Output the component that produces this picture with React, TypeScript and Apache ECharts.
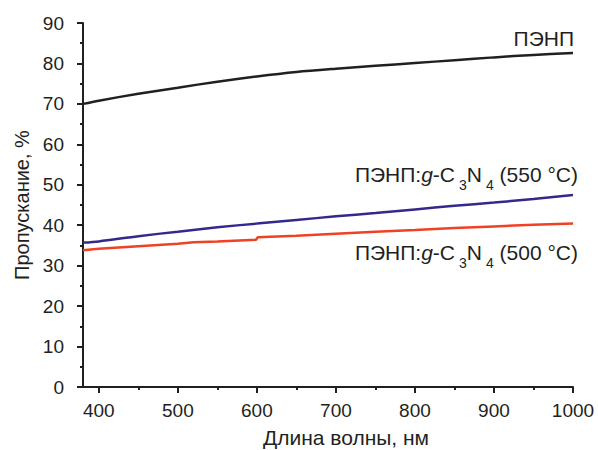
import React, { useEffect, useRef } from "react";
import * as echarts from "echarts";

const xMin = 380;
const xMax = 1000;
const xTickStart = 400;
const yTicks = [0, 10, 20, 30, 40, 50, 60, 70, 80, 90];

const ldpeX = [380, 400, 450, 500, 550, 600, 650, 700, 750, 800, 850, 900, 950, 1000];
const ldpeY = [70.0, 70.8, 72.5, 74.0, 75.5, 76.8, 77.9, 78.7, 79.4, 80.1, 80.8, 81.5, 82.1, 82.6];

const c550X = [380, 400, 450, 500, 550, 600, 650, 700, 750, 800, 850, 900, 950, 1000];
const c550Y = [35.7, 36.0, 37.3, 38.4, 39.5, 40.4, 41.3, 42.2, 43.0, 43.9, 44.8, 45.6, 46.5, 47.5];

const c500X = [380, 400, 450, 500, 520, 550, 599, 601, 650, 700, 750, 800, 850, 900, 950, 1000];
const c500Y = [33.8, 34.2, 34.8, 35.4, 35.8, 36.0, 36.4, 37.0, 37.4, 37.9, 38.4, 38.8, 39.3, 39.7, 40.1, 40.4];

const labels = {
  ldpe: "ПЭНП",
  c550: "ПЭНП:{i|g}-C{s|3}N{s|4} (550 °C)",
  c500: "ПЭНП:{i|g}-C{s|3}N{s|4} (500 °C)",
};

const pairs = (xs: number[], ys: number[]) => xs.map((x, i) => [x, ys[i]]);

const FONT = "'Liberation Sans', Arial, Helvetica, sans-serif";
const TXT = "#231f20";

const GRID_LEFT = 83;
const GRID_RIGHT = 25;
const CHART_W = 598;

export default function App() {
  const ref = useRef<HTMLDivElement>(null);
  useEffect(() => {
    document.body.style.margin = "0";
    if (!ref.current) return;
    const chart = echarts.init(ref.current, undefined, { renderer: "svg" });
    const rich = {
      i: { fontStyle: "italic", fontSize: 21, fontFamily: FONT, color: TXT },
      s: { fontSize: 14, fontFamily: FONT, color: TXT, verticalAlign: "bottom", padding: [0, 0, -7, 4] },
    };
    const labelText = (text: string, x: number, y: number) => ({
      type: "text",
      right: CHART_W - x,
      top: y,
      style: { text, font: `21px ${FONT}`, fill: TXT, rich },
    });
    const plotW = CHART_W - GRID_LEFT - GRID_RIGHT;
    const tickGridLeft = GRID_LEFT + ((xTickStart - xMin) / (xMax - xMin)) * plotW;
    chart.setOption({
      animation: false,
      backgroundColor: "#ffffff",
      grid: [
        { left: GRID_LEFT, right: GRID_RIGHT, top: 23, bottom: 63, containLabel: false, outerBoundsMode: "none" },
        { left: tickGridLeft, right: GRID_RIGHT, top: 23, bottom: 63, containLabel: false, outerBoundsMode: "none" },
      ],
      xAxis: [
        {
          gridIndex: 0,
          type: "value",
          min: xMin,
          max: xMax,
          name: "Длина волны, нм",
          nameLocation: "middle",
          nameGap: 40,
          nameTextStyle: { fontFamily: FONT, fontSize: 21, color: TXT, padding: [0, 0, 0, 36] },
          axisLine: { onZero: false, lineStyle: { color: TXT, width: 2 } },
          axisTick: { show: false },
          splitLine: { show: false },
          axisLabel: { show: false },
        },
        {
          gridIndex: 1,
          type: "value",
          min: xTickStart,
          max: xMax,
          interval: 100,
          axisLine: { show: false, onZero: false },
          axisTick: { show: true, length: 6, lineStyle: { color: TXT, width: 2 } },
          minorTick: { show: true, splitNumber: 2, length: 3, lineStyle: { color: TXT, width: 2 } },
          splitLine: { show: false },
          minorSplitLine: { show: false },
          axisLabel: {
            margin: 14,
            fontFamily: FONT,
            fontSize: 19,
            color: TXT,
            formatter: (v: number) => String(v),
          },
        },
      ],
      yAxis: [
        {
          gridIndex: 0,
          type: "value",
          min: 0,
          max: 90,
          interval: 10,
          name: "Пропускание, %",
          nameLocation: "middle",
          nameGap: 50,
          nameTextStyle: { fontFamily: FONT, fontSize: 20, color: TXT },
          axisLine: { show: true, lineStyle: { color: TXT, width: 2 } },
          axisTick: { show: true, inside: false, length: 6, lineStyle: { color: TXT, width: 2 } },
          minorTick: { show: true, splitNumber: 2, length: 3, lineStyle: { color: TXT, width: 2 } },
          splitLine: { show: false },
          axisLabel: {
            margin: 19,
            fontFamily: FONT,
            fontSize: 19,
            color: TXT,
            formatter: (v: number) => (yTicks.includes(v) ? String(v) : ""),
          },
        },
        {
          gridIndex: 1,
          type: "value",
          min: 0,
          max: 90,
          show: false,
        },
      ],
      graphic: [
        labelText(labels.ldpe, 574, 28),
        labelText(labels.c550, 578, 164),
        labelText(labels.c500, 578, 242),
      ],
      series: [
        {
          type: "line",
          xAxisIndex: 0,
          yAxisIndex: 0,
          data: pairs(ldpeX, ldpeY),
          showSymbol: false,
          smooth: 0.3,
          lineStyle: { color: "#231f20", width: 2.5 },
          z: 3,
        },
        {
          type: "line",
          xAxisIndex: 0,
          yAxisIndex: 0,
          data: pairs(c550X, c550Y),
          showSymbol: false,
          smooth: 0.3,
          lineStyle: { color: "#33298c", width: 2.5 },
          z: 3,
        },
        {
          type: "line",
          xAxisIndex: 0,
          yAxisIndex: 0,
          data: pairs(c500X, c500Y),
          showSymbol: false,
          lineStyle: { color: "#ef4123", width: 2.5 },
          z: 3,
        },
      ],
    });
    return () => chart.dispose();
  }, []);
  return <div ref={ref} style={{ width: 598, height: 450 }} />;
}
